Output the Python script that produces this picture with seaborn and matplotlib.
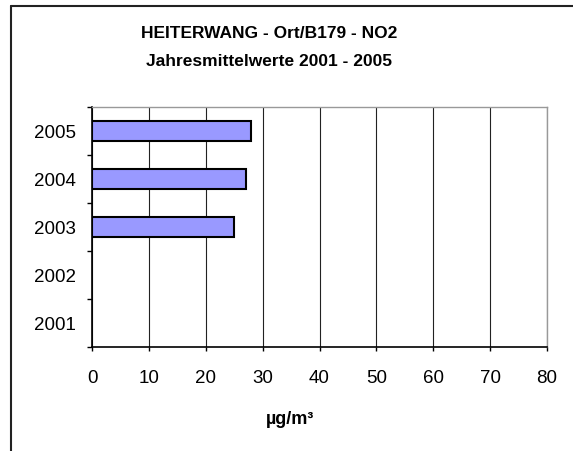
import numpy as np
import pandas as pd
import matplotlib
matplotlib.use("Agg")
import matplotlib.pyplot as plt
from matplotlib.lines import Line2D
from matplotlib.ticker import FixedLocator
import seaborn as sns

# Données : moyennes annuelles NO2 (µg/m³)
years = ["2005", "2004", "2003", "2002", "2001"]
values = [28, 27, 25, np.nan, np.nan]
title_lines = ["HEITERWANG - Ort/B179 - NO2", "Jahresmittelwerte 2001 - 2005"]
unit = "µg/m³"
x_ticks = [0, 10, 20, 30, 40, 50, 60, 70, 80]

sns.set_theme(style="white")
plt.rcParams["font.family"] = ["Liberation Sans", "DejaVu Sans"]
plt.rcParams.update({
    "text.color": "black",
    "xtick.color": "black",
    "ytick.color": "black",
    "axes.labelcolor": "black",
})

df = pd.DataFrame({"year": years, "value": values})

fig = plt.figure(figsize=(5.73, 4.52), dpi=100)
ax = fig.add_axes([92 / 573, 1 - 348 / 452, 455 / 573, 240 / 452])

sns.barplot(data=df, x="value", y="year", order=years, orient="h",
            color="#9999FF", saturation=1, width=0.4,
            edgecolor="black", linewidth=1.5, ax=ax)

ax.set_xlim(x_ticks[0], x_ticks[-1])
ax.set_ylim(len(years) - 0.5, -0.5)
ax.xaxis.set_major_locator(FixedLocator(x_ticks))
ax.grid(axis="x", color="#222222", linewidth=0.8)
ax.set_axisbelow(True)

# traits de graduation Y entre catégories
ax.yaxis.set_minor_locator(FixedLocator(np.arange(-0.5, len(years), 1.0)))
ax.tick_params(axis="y", which="major", length=0, pad=11.5, labelsize=13.5)
ax.tick_params(axis="y", which="minor", left=True, length=3.6, width=1, color="black")
ax.tick_params(axis="x", which="major", bottom=True, length=3, width=1,
               color="black", pad=13, labelsize=13.5)

ax.set_xlabel("")
ax.set_ylabel("")
for side in ["left", "bottom"]:
    ax.spines[side].set_color("black")
    ax.spines[side].set_linewidth(1.2)
for side in ["top", "right"]:
    ax.spines[side].set_color("#999999")
    ax.spines[side].set_linewidth(1.0)

fig.text(269 / 573, 1 - 33 / 452, title_lines[0], ha="center", va="center",
         fontsize=12.5, fontweight="bold")
fig.text(269 / 573, 1 - 61 / 452, title_lines[1], ha="center", va="center",
         fontsize=12.5, fontweight="bold")
fig.text(290 / 573, 1 - 420 / 452, unit, ha="center", va="center",
         fontsize=13, fontweight="bold")

# cadre du graphique : seulement bord gauche et haut (le reste est coupé)
x0, y0 = 11 / 573, 1 - 7 / 452
fig.add_artist(Line2D([x0, x0], [0, y0], transform=fig.transFigure,
                      color="#222222", linewidth=1.5))
fig.add_artist(Line2D([x0, 1], [y0, y0], transform=fig.transFigure,
                      color="#222222", linewidth=1.5))

fig.savefig("out.png", dpi=100)
